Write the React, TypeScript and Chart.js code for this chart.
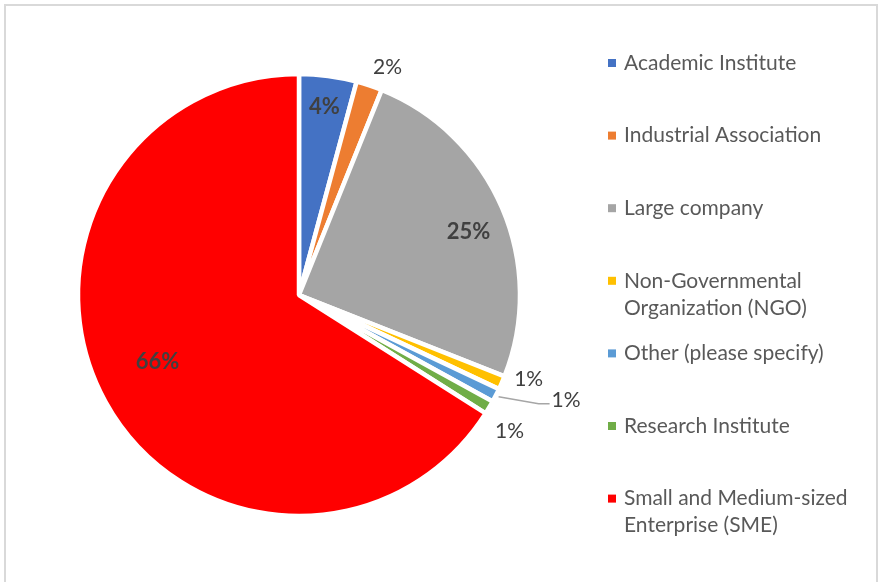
import React, { useEffect, useRef } from "react";
import { Chart, registerables } from "chart.js";

Chart.register(...registerables);

// ---- data ----
const categories = [
  "Academic Institute",
  "Industrial Association",
  "Large company",
  "Non-Governmental Organization (NGO)",
  "Other (please specify)",
  "Research Institute",
  "Small and Medium-sized Enterprise (SME)",
];
const legendLines = [
  ["Academic Institute"],
  ["Industrial Association"],
  ["Large company"],
  ["Non-Governmental", "Organization (NGO)"],
  ["Other (please specify)"],
  ["Research Institute"],
  ["Small and Medium-sized", "Enterprise (SME)"],
];
const values = [4.2, 1.9, 24.9, 1.0, 1.0, 1.0, 66.0];
const colors = ["#4472C4", "#ED7D31", "#A5A5A5", "#FFC000", "#5B9BD5", "#70AD47", "#FF0000"];
// label placement style per slice
const labelPlacement = ["inside", "outside", "inside", "outside", "leader", "outside", "inside"];
const insideFactor = [0.87, 0, 0.82, 0, 0, 0, 0.72];
const labelNudge = [[0, 3], [10, 6], [3, 8], [3, -14], [0, 0], [-2, 11], [-2, -10]];

const FONT = "Lato, 'Open Sans', sans-serif";

const framePlugin = {
  id: "frame",
  beforeDraw(chart: any) {
    const ctx = chart.ctx;
    ctx.save();
    ctx.fillStyle = "#ffffff";
    ctx.fillRect(0, 0, chart.width, chart.height);
    ctx.strokeStyle = "#d9d9d9";
    ctx.lineWidth = 2;
    ctx.strokeRect(5, 5, chart.width - 8, chart.height + 20);
    ctx.restore();
  },
};

const labelPlugin = {
  id: "sliceLabels",
  afterDatasetsDraw(chart: any) {
    const ctx = chart.ctx;
    const meta = chart.getDatasetMeta(0);
    const data = chart.data.datasets[0].data as number[];
    const total = data.reduce((a, b) => a + b, 0);
    ctx.save();
    ctx.fillStyle = "#404040";
    ctx.textBaseline = "middle";
    meta.data.forEach((arc: any, i: number) => {
      const p = arc.getProps(["x", "y", "startAngle", "endAngle", "outerRadius"], true);
      const mid = (p.startAngle + p.endAngle) / 2;
      const R = p.outerRadius;
      const txt = Math.round((data[i] / total) * 100) + "%";
      const mode = labelPlacement[i];
      const [nx, ny] = labelNudge[i];
      if (mode === "inside") {
        const r = R * insideFactor[i];
        ctx.font = `bold 22px ${FONT}`;
        ctx.textAlign = "center";
        ctx.fillText(txt, p.x + Math.cos(mid) * r + nx, p.y + Math.sin(mid) * r + ny);
      } else if (mode === "outside") {
        const r = R + 26;
        ctx.font = `21px ${FONT}`;
        ctx.textAlign = "center";
        ctx.fillText(txt, p.x + Math.cos(mid) * r + nx, p.y + Math.sin(mid) * r + ny);
      } else {
        const r = R + 3;
        const sx = p.x + Math.cos(mid) * r;
        const sy = p.y + Math.sin(mid) * r;
        ctx.strokeStyle = "#a6a6a6";
        ctx.lineWidth = 1.5;
        ctx.beginPath();
        ctx.moveTo(sx, sy);
        ctx.lineTo(sx + 40, sy + 7);
        ctx.lineTo(sx + 51, sy + 7);
        ctx.stroke();
        ctx.font = `21px ${FONT}`;
        ctx.textAlign = "left";
        ctx.fillText(txt, sx + 53, sy + 4);
      }
    });
    ctx.restore();
  },
};

const legendPlugin = {
  id: "customLegend",
  afterDraw(chart: any) {
    const ctx = chart.ctx;
    ctx.save();
    ctx.font = `21px ${FONT}`;
    ctx.textBaseline = "middle";
    ctx.textAlign = "left";
    const x0 = 608;
    const y0 = 63;
    const step = 72.6;
    legendLines.forEach((lines, i) => {
      const y = y0 + i * step;
      ctx.fillStyle = colors[i];
      ctx.fillRect(x0, y - 4, 8, 8);
      ctx.fillStyle = "#595959";
      lines.forEach((ln, j) => {
        ctx.fillText(ln, x0 + 16, y + j * 27);
      });
    });
    ctx.restore();
  },
};

export default function App() {
  const ref = useRef<HTMLCanvasElement | null>(null);
  useEffect(() => {
    if (!ref.current) return;
    const chart = new Chart(ref.current, {
      type: "pie",
      data: {
        labels: categories,
        datasets: [
          {
            data: values,
            backgroundColor: colors,
            borderColor: "#ffffff",
            borderWidth: 4.5,
            radius: 221,
          } as any,
        ],
      },
      options: {
        responsive: false,
        animation: false,
        layout: { padding: { left: 78, right: 360, top: 74, bottom: 66 } },
        plugins: {
          legend: { display: false },
          tooltip: { enabled: false },
        },
      },
      plugins: [framePlugin, labelPlugin, legendPlugin],
    });
    return () => chart.destroy();
  }, []);
  return (
    <div style={{ position: "absolute", left: 0, top: 0, width: 880, height: 582 }}>
      <canvas ref={ref} width={880} height={582} style={{ width: 880, height: 582 }} />
    </div>
  );
}
